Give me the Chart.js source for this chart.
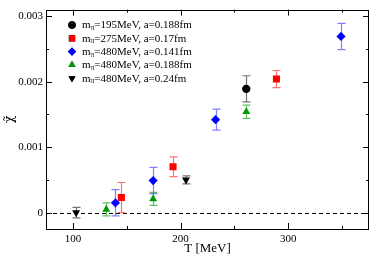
<!DOCTYPE html>
<html><head><meta charset="utf-8">
<script src="https://cdn.jsdelivr.net/npm/chart.js@4/dist/chart.umd.min.js"></script>
<style>html,body{margin:0;padding:0;background:#fff}#wrap{width:374px;height:256px;position:relative}</style>
</head><body><div id="wrap"><canvas id="c"></canvas></div>
<script>
// ---- data ----
const seriesLabels = ["mπ=195MeV, a=0.188fm","mπ=275MeV, a=0.17fm","mπ=480MeV, a=0.141fm","mπ=480MeV, a=0.188fm","mπ=480MeV, a=0.24fm"];
const T_195_0188 = [261];
const chi_195_0188 = [0.00189];
const err_195_0188 = [0.0002];
const T_275_017 = [145, 193, 289];
const chi_275_017 = [0.00023, 0.0007, 0.00204];
const err_275_017 = [0.00023, 0.00015, 0.00013];
const T_480_0141 = [139.5, 174.5, 232.5, 349];
const chi_480_0141 = [0.00015, 0.00049, 0.00142, 0.00269];
const err_480_0141 = [0.0002, 0.0002, 0.00016, 0.0002];
const T_480_0188 = [131, 174.5, 261];
const chi_480_0188 = [0.00005, 0.00021, 0.00154];
const err_480_0188 = [0.0001, 0.0001, 0.0001];
const T_480_024 = [103, 205];
const chi_480_024 = [0.0, 0.0005];
const err_480_024 = [0.00008, 0.00006];
const xTicks = [100, 200, 300];
const xMinorTicks = [150, 250, 350];
const yTicks = [0, 0.001, 0.002, 0.003];
const yMinorTicks = [0.0005, 0.0015, 0.0025];

const FONT = "'Liberation Serif','Times New Roman',serif";
const colors = ['#000000','#ff0000','#0000ff','#009a00','#000000'];
const errColors = ['rgba(0,0,0,0.55)','rgba(255,0,0,0.55)','rgba(0,0,255,0.5)','rgba(0,150,0,0.6)','rgba(0,0,0,0.55)'];
const styles = ['circle','rect','rectRot','triangle','triangle'];
const rotations = [0,0,0,0,180];
const radii = [4.2,5,4.6,4.6,4.6];

function mk(xs, ys, es){ return xs.map((x,i)=>({x:x, y:ys[i], e:es[i]})); }
const dataSets = [
  mk(T_195_0188, chi_195_0188, err_195_0188),
  mk(T_275_017, chi_275_017, err_275_017),
  mk(T_480_0141, chi_480_0141, err_480_0141),
  mk(T_480_0188, chi_480_0188, err_480_0188),
  mk(T_480_024, chi_480_024, err_480_024)
];

const framePlugin = {
  id:'frame',
  beforeDatasetsDraw(chart){
    const {ctx, chartArea:a, scales:{x, y}} = chart;
    ctx.save();
    ctx.strokeStyle='#000'; ctx.lineWidth=1; ctx.setLineDash([4,3]);
    const y0 = Math.round(y.getPixelForValue(0))+0.5;
    ctx.beginPath(); ctx.moveTo(a.left, y0); ctx.lineTo(a.right, y0); ctx.stroke();
    ctx.setLineDash([]);
    chart.data.datasets.forEach((ds, di)=>{
      ctx.strokeStyle = errColors[di]; ctx.lineWidth = 1.2;
      ds.data.forEach(p=>{
        const px = Math.round(x.getPixelForValue(p.x))+0.5;
        const yt = y.getPixelForValue(p.y + p.e);
        const yb = y.getPixelForValue(p.y - p.e);
        ctx.beginPath();
        ctx.moveTo(px, yt); ctx.lineTo(px, yb);
        ctx.moveTo(px-4, yt); ctx.lineTo(px+4, yt);
        ctx.moveTo(px-4, yb); ctx.lineTo(px+4, yb);
        ctx.stroke();
      });
    });
    ctx.restore();
  },
  afterDraw(chart){
    const {ctx, chartArea:a, scales:{x, y}} = chart;
    ctx.save();
    ctx.strokeStyle='#000'; ctx.lineWidth=1;
    ctx.strokeRect(Math.round(a.left)+0.5, Math.round(a.top)+0.5, Math.round(a.right-a.left)-1, Math.round(a.bottom-a.top));
    ctx.beginPath();
    xTicks.forEach(v=>{ const px=Math.round(x.getPixelForValue(v))+0.5;
      ctx.moveTo(px,a.bottom); ctx.lineTo(px,a.bottom-6); ctx.moveTo(px,a.top); ctx.lineTo(px,a.top+6); });
    xMinorTicks.forEach(v=>{ const px=Math.round(x.getPixelForValue(v))+0.5;
      ctx.moveTo(px,a.bottom); ctx.lineTo(px,a.bottom-3); ctx.moveTo(px,a.top); ctx.lineTo(px,a.top+3); });
    yTicks.forEach(v=>{ const py=Math.round(y.getPixelForValue(v))+0.5;
      ctx.moveTo(a.left,py); ctx.lineTo(a.left+6,py); ctx.moveTo(a.right,py); ctx.lineTo(a.right-6,py); });
    yMinorTicks.forEach(v=>{ const py=Math.round(y.getPixelForValue(v))+0.5;
      ctx.moveTo(a.left,py); ctx.lineTo(a.left+3,py); ctx.moveTo(a.right,py); ctx.lineTo(a.right-3,py); });
    ctx.stroke();
    const lx = 72, ly0 = 25, dy = 13.3, tx = 82;
    chart.data.datasets.forEach((ds, i)=>{
      const yy = ly0 + i*dy;
      Chart.helpers.drawPoint(ctx, {pointStyle: styles[i], rotation: rotations[i], radius: radii[i]*0.9, borderWidth:0}, lx, yy);
      ctx.fillStyle = colors[i];
      ctx.fill();
      const lbl = ds.label;
      const k = lbl.indexOf('π');
      ctx.fillStyle = '#000'; ctx.textBaseline='middle'; ctx.textAlign='left';
      let cx = tx;
      ctx.font = '11px ' + FONT;
      const pre = lbl.slice(0,k); ctx.fillText(pre, cx, yy+0.5); cx += ctx.measureText(pre).width;
      ctx.font = '7.5px ' + FONT;
      ctx.fillText('π', cx, yy+3); cx += ctx.measureText('π').width;
      ctx.font = '11px ' + FONT;
      ctx.fillText(lbl.slice(k+1), cx, yy+0.5);
    });
    ctx.restore();
  }
};

new Chart(document.getElementById('c'), {
  type:'scatter',
  data:{ datasets: dataSets.map((d,i)=>({
    label: seriesLabels[i], data: d,
    pointStyle: styles[i], rotation: rotations[i], radius: radii[i],
    backgroundColor: colors[i], borderColor: colors[i], borderWidth: 0, showLine:false
  }))},
  options:{
    responsive:true, maintainAspectRatio:false, animation:false,
    layout:{padding:{top:1, right:1, left:0, bottom:0}},
    plugins:{legend:{display:false}, tooltip:{enabled:false}},
    scales:{
      x:{ type:'linear', min:75, max:375,
        afterBuildTicks(s){ s.ticks = xTicks.map(v=>({value:v})); },
        afterFit(s){ s.height = 27; },
        grid:{display:false, drawTicks:false}, border:{display:false},
        ticks:{ padding:4, color:'#000', font:{family:FONT, size:11}, maxRotation:0, callback:v=>String(v) },
        title:{ display:true, text:'T [MeV]', color:'#000', font:{family:FONT, size:13}, padding:{top:0,bottom:0} }
      },
      y:{ type:'linear', min:-0.00025, max:0.0031,
        afterBuildTicks(s){ s.ticks = yTicks.map(v=>({value:v})); },
        afterFit(s){ s.width = 46; },
        grid:{display:false, drawTicks:false}, border:{display:false},
        ticks:{ padding:3, color:'#000', font:{family:FONT, size:11}, callback:v=> v===0 ? '0' : v.toFixed(3) },
        title:{ display:true, text:'χ̃', color:'#000', font:{family:"'DejaVu Serif',serif", size:13}, padding:{top:2,bottom:0} }
      }
    }
  },
  plugins:[framePlugin]
});
</script></body></html>
